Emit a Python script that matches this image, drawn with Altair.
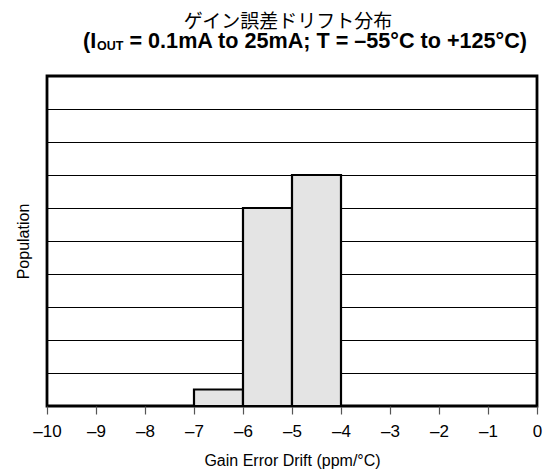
import altair as alt
import pandas as pd

# Data
bin_start = [-7, -6, -5]
bin_end = [-6, -5, -4]
population = [0.5, 6, 7]

title_line1 = "ゲイン誤差ドリフト分布"
title_line2_a = "(I"
title_line2_sub = "OUT"
title_line2_b = "= 0.1mA to 25mA; T = –55°C to +125°C)"
x_title = "Gain Error Drift (ppm/°C)"
y_title = "Population"

df = pd.DataFrame({"start": bin_start, "end": bin_end, "pop": population})

W, H = 490, 330
FONT = "Liberation Sans"

xscale = alt.Scale(domain=[-10, 0], nice=False, zero=False)
yscale = alt.Scale(domain=[0, 10], nice=False, zero=True)

bars = alt.Chart(df).mark_rect(fill="#e4e4e4", stroke="black", strokeWidth=2.2).encode(
    x=alt.X("start:Q", scale=xscale,
            axis=alt.Axis(title=x_title, values=list(range(-10, 1)), grid=False,
                          domain=False, tickSize=8, tickColor="#555", tickWidth=1.2,
                          labelFont=FONT, labelFontSize=17, labelColor="black",
                          labelPadding=9, labelFlush=False, labelOverlap=False,
                          titleFont=FONT, titleFontSize=16,
                          titleFontWeight="normal", titleColor="black", titlePadding=13,
                          labelExpr="datum.value < 0 ? '–' + abs(datum.value) : '' + datum.value")),
    x2="end:Q",
    y=alt.Y("pop:Q", scale=yscale,
            axis=alt.Axis(title=y_title, values=list(range(0, 11)), grid=True,
                          gridColor="black", gridWidth=1, labels=False, ticks=False,
                          domain=False, titleFont=FONT, titleFontSize=16,
                          titleFontWeight="normal", titleColor="black", titlePadding=16)),
    y2=alt.datum(0),
)

t1 = alt.Chart(pd.DataFrame({"t": [title_line1]})).mark_text(
    font="Noto Sans CJK JP", fontSize=19, align="center", baseline="middle", color="black"
).encode(text="t:N", x=alt.value(241), y=alt.value(-54))

t2a = alt.Chart(pd.DataFrame({"t": [title_line2_a]})).mark_text(
    font=FONT, fontSize=21.6, fontWeight="bold", align="left", baseline="alphabetic", color="black"
).encode(text="t:N", x=alt.value(36), y=alt.value(-28))

t2s = alt.Chart(pd.DataFrame({"t": [title_line2_sub]})).mark_text(
    font=FONT, fontSize=12.5, fontWeight="bold", align="left", baseline="alphabetic", color="black"
).encode(text="t:N", x=alt.value(50), y=alt.value(-26))

t2b = alt.Chart(pd.DataFrame({"t": [title_line2_b]})).mark_text(
    font=FONT, fontSize=21.6, fontWeight="bold", align="left", baseline="alphabetic", color="black"
).encode(text="t:N", x=alt.value(82.5), y=alt.value(-28))

chart = alt.layer(bars, t1, t2a, t2s, t2b).properties(
    width=W, height=H,
    autosize=alt.AutoSizeParams(type="none"),
    padding={"left": 39, "top": 68, "right": 13, "bottom": 64},
).configure(background="white").configure_view(stroke="black", strokeWidth=2.8)

chart.save("out.html", embed_options={"renderer": "svg", "actions": False})
